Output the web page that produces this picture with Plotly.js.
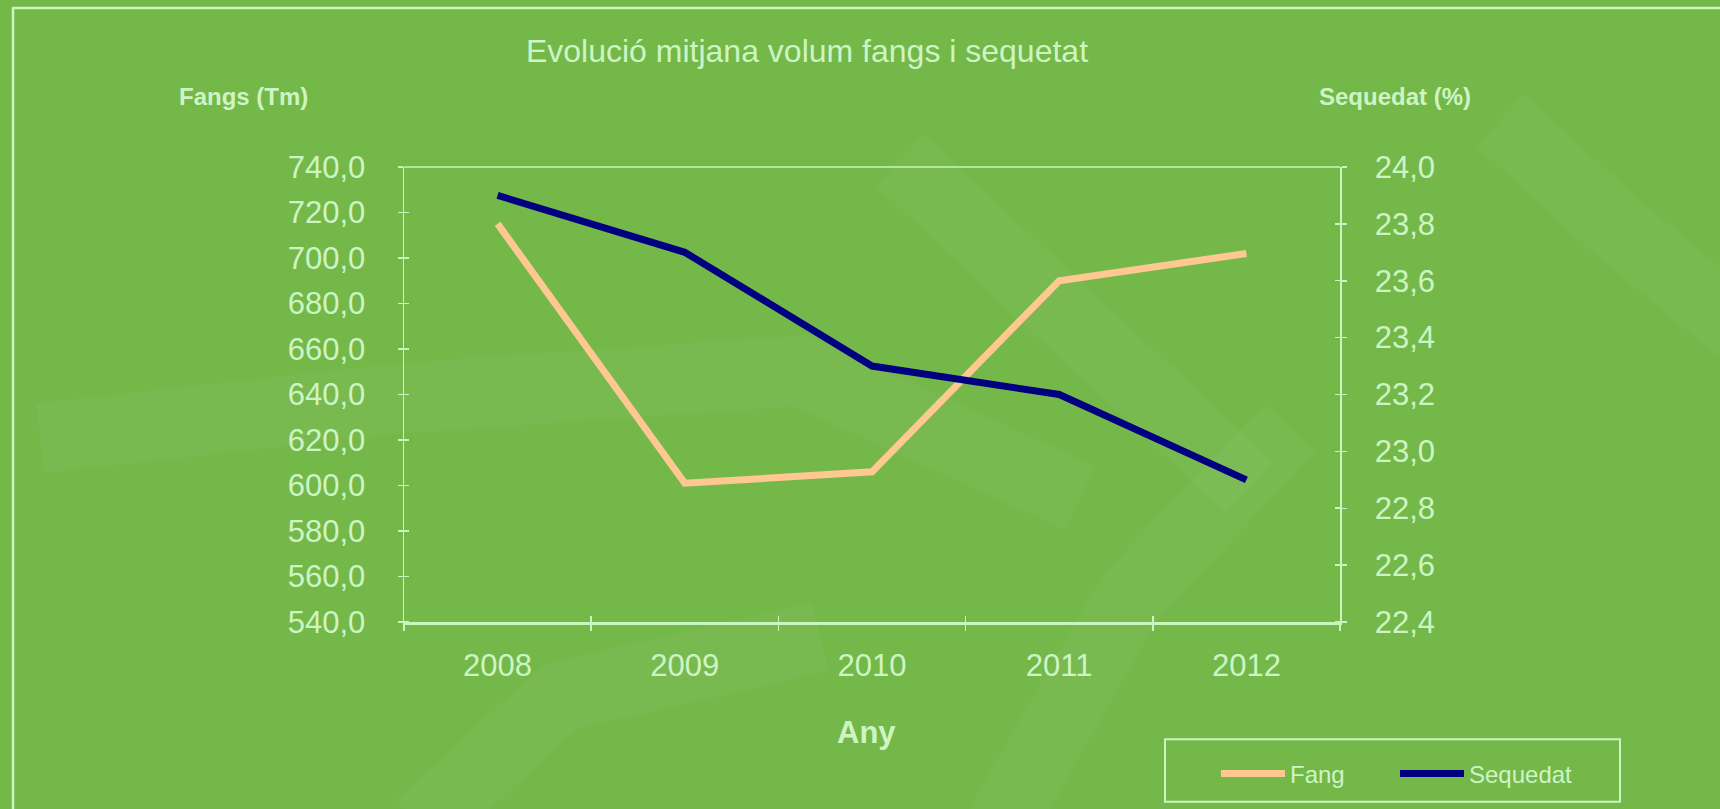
<!DOCTYPE html>
<html>
<head>
<meta charset="utf-8">
<script src="https://cdn.plot.ly/plotly-3.0.1.min.js"></script>
<style>
  html, body { margin: 0; padding: 0; background: #74b84a; }
  #chart { width: 1720px; height: 809px; }
</style>
</head>
<body>
<div id="chart"></div>
<script>
// ---- data ----
const years = ['2008', '2009', '2010', '2011', '2012'];
const fang = [715, 601, 606, 690, 702];          // Fangs (Tm)
const sequedat = [23.9, 23.7, 23.3, 23.2, 22.9]; // Sequedat (%)
const seriesNames = ['Fang', 'Sequedat'];
const titleText = 'Evolució mitjana volum fangs i sequetat';
const leftAxisTitle = 'Fangs (Tm)';
const rightAxisTitle = 'Sequedat (%)';
const xAxisTitle = 'Any';

// ---- geometry / style ----
const W = 1720, H = 809;
const ML = 404, MR = 380, MT = 167, MB = 184;
const PW = W - ML - MR, PH = H - MT - MB;
const px2x = p => (p - ML) / PW;
const py2y = p => (MT + PH - p) / PH;

const FONT = 'Liberation Sans, Arial, sans-serif';
const textC = '#cdf5c4';
const lineC = '#c9f5bf';
const bg = '#74b84a';

const traces = [
  {
    x: years, y: fang, name: seriesNames[0], type: 'scatter', mode: 'lines',
    line: { color: '#ffc891', width: 7 }, xaxis: 'x', yaxis: 'y'
  },
  {
    x: years, y: sequedat, name: seriesNames[1], type: 'scatter', mode: 'lines',
    line: { color: '#000080', width: 7 }, xaxis: 'x2', yaxis: 'y2'
  }
];

const tickFont = { family: FONT, size: 31, color: textC };

// decorative light streaks of the textured background
const streaks = [
  [[40, 440], [400, 400], [800, 372], [1080, 500]],
  [[900, 160], [1080, 330], [1250, 490]],
  [[420, 830], [560, 700], [820, 640]],
  [[1500, 120], [1620, 230], [1740, 330]],
  [[1000, 830], [1130, 600], [1290, 430]]
];
function pathOf(pts) {
  return pts.map((p, i) => (i ? 'L' : 'M') + px2x(p[0]).toFixed(4) + ',' + py2y(p[1]).toFixed(4)).join(' ');
}
const shapes = streaks.map(s => ({
  type: 'path', xref: 'paper', yref: 'paper', path: pathOf(s),
  line: { color: 'rgba(255,255,255,0.035)', width: 70 }, layer: 'below'
}));
// outer frame
shapes.push({
  type: 'rect', xref: 'paper', yref: 'paper',
  x0: px2x(13), x1: px2x(1735), y0: py2y(7), y1: py2y(830),
  line: { color: lineC, width: 2.5 }, layer: 'below'
});
// top border of plot area
shapes.push({
  type: 'line', xref: 'paper', yref: 'paper', x0: 0, x1: 1, y0: 1, y1: 1,
  line: { color: lineC, width: 1.5 }
});
// legend box
shapes.push({
  type: 'rect', xref: 'paper', yref: 'paper',
  x0: px2x(1165), x1: px2x(1620), y0: py2y(743), y1: py2y(806),
  line: { color: lineC, width: 2 }
});

const tickStyle = { tickwidth: 1.5, tickcolor: lineC };

const layout = {
  width: W, height: H,
  margin: { l: ML, r: MR, t: MT, b: MB, pad: 0 },
  paper_bgcolor: bg, plot_bgcolor: 'rgba(0,0,0,0)',
  separators: ', ',
  font: { family: FONT, color: textC },
  title: {
    text: titleText, xref: 'container', yref: 'container',
    x: 807 / W, xanchor: 'center', y: 1 - 51 / H, yanchor: 'middle',
    font: { family: FONT, size: 32, color: textC }
  },
  xaxis: Object.assign({
    type: 'category', categoryorder: 'array', categoryarray: years,
    range: [-0.5, 4.5], tickson: 'boundaries',
    ticks: 'outside', ticklen: 6,
    showline: true, linecolor: lineC, linewidth: 3,
    showgrid: false, zeroline: false, tickfont: tickFont,
    ticklabelstandoff: 14, fixedrange: true
  }, tickStyle),
  xaxis2: Object.assign({
    overlaying: 'x', anchor: 'y2', side: 'bottom',
    type: 'category', categoryorder: 'array', categoryarray: years,
    range: [-0.5, 4.5], tickson: 'boundaries',
    ticks: 'inside', ticklen: 6,
    showticklabels: false, showline: false, showgrid: false, zeroline: false,
    fixedrange: true
  }, tickStyle),
  yaxis: Object.assign({
    range: [540, 740], tick0: 540, dtick: 20, tickformat: '.1f',
    ticks: 'outside', ticklen: 5,
    showline: true, linecolor: lineC, linewidth: 1.5,
    showgrid: false, zeroline: false, tickfont: tickFont,
    ticklabelstandoff: 26, fixedrange: true,
    minor: { ticks: 'inside', tickmode: 'linear', tick0: 540.05, dtick: 20,
             ticklen: 5, tickwidth: 1.5, tickcolor: lineC, showgrid: false }
  }, tickStyle),
  yaxis2: Object.assign({
    overlaying: 'y', side: 'right', anchor: 'x2',
    range: [22.4, 24.0], tick0: 22.4, dtick: 0.2, tickformat: '.1f',
    ticks: 'outside', ticklen: 5,
    showline: true, linecolor: lineC, linewidth: 1.5,
    showgrid: false, zeroline: false, tickfont: tickFont,
    ticklabelstandoff: 22, fixedrange: true,
    minor: { ticks: 'inside', tickmode: 'linear', tick0: 22.4004, dtick: 0.2,
             ticklen: 5, tickwidth: 1.5, tickcolor: lineC, showgrid: false }
  }, tickStyle),
  showlegend: true,
  legend: {
    orientation: 'h', x: px2x(1216), xanchor: 'left', y: py2y(778), yanchor: 'middle',
    bgcolor: 'rgba(0,0,0,0)', borderwidth: 0,
    font: { family: FONT, size: 24, color: textC },
    itemwidth: 64, entrywidth: 100, entrywidthmode: 'pixels', traceorder: 'normal'
  },
  annotations: [
    {
      text: '<b>' + leftAxisTitle + '</b>', xref: 'paper', yref: 'paper',
      x: px2x(243), y: py2y(96), xanchor: 'center', yanchor: 'middle', showarrow: false,
      font: { family: FONT, size: 24, color: textC }
    },
    {
      text: '<b>' + rightAxisTitle + '</b>', xref: 'paper', yref: 'paper',
      x: px2x(1395), y: py2y(96), xanchor: 'center', yanchor: 'middle', showarrow: false,
      font: { family: FONT, size: 24, color: textC }
    },
    {
      text: '<b>' + xAxisTitle + '</b>', xref: 'paper', yref: 'paper',
      x: px2x(866), y: py2y(736), xanchor: 'center', yanchor: 'middle', showarrow: false,
      font: { family: FONT, size: 31, color: textC }
    }
  ],
  shapes: shapes
};

Plotly.newPlot('chart', traces, layout, { displayModeBar: false, staticPlot: true });
</script>
</body>
</html>
